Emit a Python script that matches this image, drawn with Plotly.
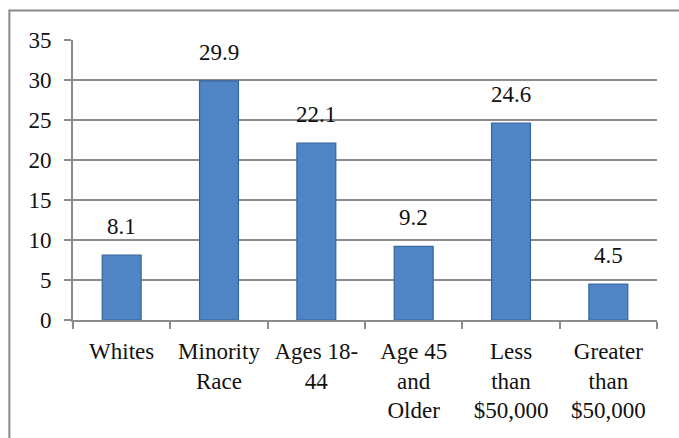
import plotly.graph_objects as go

# Percentages by group
categories = ["Whites", "Minority<br>Race", "Ages 18-<br>44", "Age 45<br>and<br>Older",
              "Less<br>than<br>$50,000", "Greater<br>than<br>$50,000"]
values = [8.1, 29.9, 22.1, 9.2, 24.6, 4.5]
value_labels = ["8.1", "29.9", "22.1", "9.2", "24.6", "4.5"]
y_ticks = [0, 5, 10, 15, 20, 25, 30, 35]

font_family = "Liberation Serif"
grid_gray = "#8c8c8c"
text_color = "#111111"
font_size = 23

fig = go.Figure(
    go.Bar(
        x=categories,
        y=values,
        marker=dict(color="#4f85c5", line=dict(color="#36659f", width=1.2)),
        width=0.4,
    )
)

# value labels floating above each bar
annotations = [
    dict(x=c, y=v, text=t, xref="x", yref="y", showarrow=False,
         yanchor="bottom", yshift=14,
         font=dict(family=font_family, size=font_size, color=text_color))
    for c, v, t in zip(categories, values, value_labels)
]

fig.update_layout(
    width=679,
    height=438,
    margin=dict(l=73, r=22, t=40, b=118),
    paper_bgcolor="white",
    plot_bgcolor="white",
    showlegend=False,
    font=dict(family=font_family, size=font_size, color=text_color),
    annotations=annotations,
    shapes=[
        # outer chart frame (runs past the right and bottom edges)
        dict(type="rect", xref="paper", yref="paper",
             x0=-0.109, y0=-0.6, x1=1.2, y1=1.105,
             line=dict(color="#8a8a8a", width=2), layer="below"),
    ],
)

fig.update_xaxes(
    type="category",
    showline=True, linecolor=grid_gray, linewidth=2,
    ticks="outside", tickson="boundaries", ticklen=7, tickcolor=grid_gray, tickwidth=2,
    showgrid=False,
    ticklabelstandoff=9,
    tickfont=dict(family=font_family, size=font_size, color=text_color),
    tickangle=0,
)

fig.update_yaxes(
    range=[0, 35],
    tickvals=y_ticks,
    showline=True, linecolor=grid_gray, linewidth=2,
    showgrid=True, gridcolor=grid_gray, gridwidth=2,
    ticks="outside", ticklen=7, tickcolor=grid_gray, tickwidth=2,
    ticklabelstandoff=8,
    zeroline=False,
    tickfont=dict(family=font_family, size=font_size, color=text_color),
)

fig.write_html("out.html")
